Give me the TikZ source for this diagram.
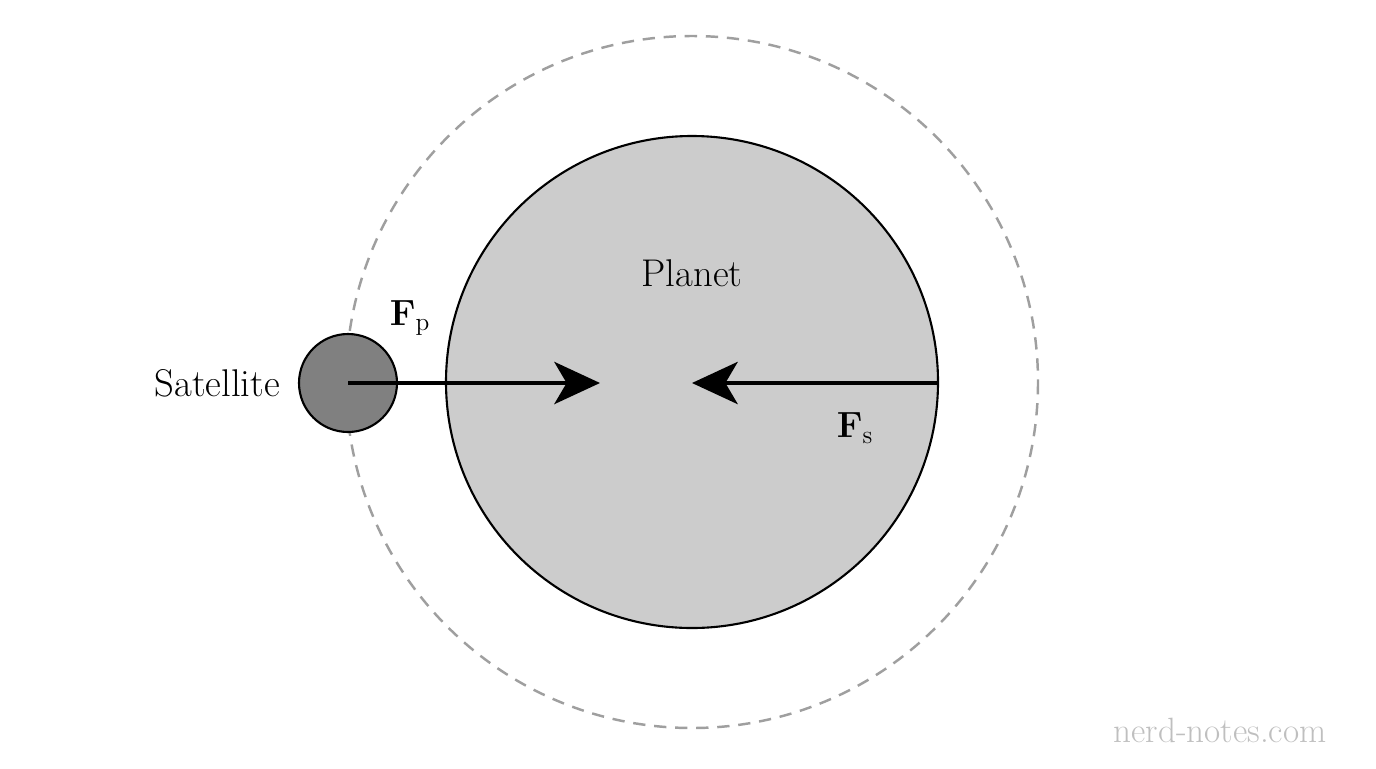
\documentclass[tikz,border=0pt]{standalone}
\usetikzlibrary{arrows.meta}
\begin{document}
\begin{tikzpicture}[x=0.02cm,y=-0.02cm,
  orbit/.style={draw=gray!75,line width=1.4pt,dash pattern=on 7pt off 5pt},
  otip/.style={draw=none,-{Stealth[length=16pt,width=15pt,inset=5pt,fill=gray!75]}},
  force/.style={line width=2.4pt,-{Stealth[length=26pt,width=24pt,inset=7pt]}},
  lbl/.style={font=\fontsize{22}{26}\selectfont}]
\useasboundingbox (0,0) rectangle (1376,768);
\coordinate (C) at (692,382);
\draw[orbit] (C) circle[radius=346];
\coordinate (t1) at (700,36); \coordinate (t2) at (672,36);
\coordinate (b1) at (712,728); \coordinate (b2) at (686,728);
\draw[otip] (t1) -- (t2);
\draw[otip] (b1) -- (b2);
\node[circle,draw=black,line width=1.2pt,fill=black!20,minimum size=492\pgflinewidth*0+492*0.02cm,inner sep=0] (planet) at (C) {};
\node[circle,draw=black,line width=1.2pt,fill=black!50,minimum size=98*0.02cm,inner sep=0] (sat) at (348,383) {};
\coordinate (pe) at (600,383);
\coordinate (pr) at (938,383);
\coordinate (se) at (692,383);
\draw[force] (sat.center) -- (pe);
\draw[force] (pr) -- (se);
\node[lbl] (pl) at (692,273) {Planet};
\node[lbl,anchor=east] (sl) at (286,383) {Satellite};
\node[lbl] (fp) at (410,318) {$\mathbf{F}_{\mathrm{p}}$};
\node[lbl] (fs) at (855,428) {$\mathbf{F}_{\mathrm{s}}$};
\node[font=\fontsize{20}{24}\selectfont,text=black!25] (wm) at (1220,730) {nerd-notes.com};
\end{tikzpicture}
\end{document}
